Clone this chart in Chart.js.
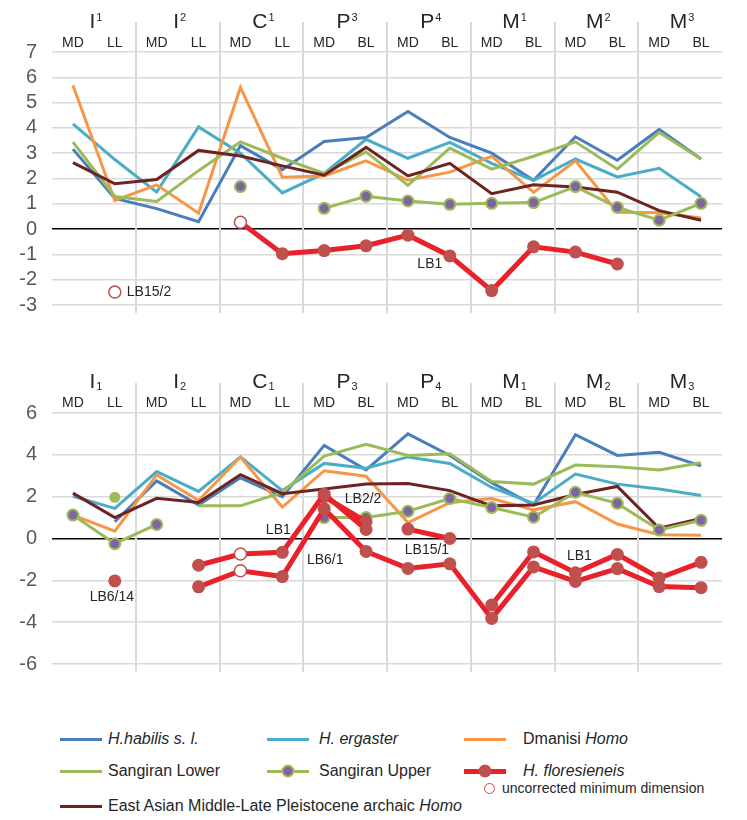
<!DOCTYPE html>
<html>
<head>
<meta charset="utf-8">
<script src="https://cdn.jsdelivr.net/npm/chart.js@4.4.0/dist/chart.umd.min.js"></script>
<style>
  body { margin: 0; background: #fff; font-family: "Liberation Sans", Arial, sans-serif; }
  #wrap { position: relative; width: 747px; height: 820px; overflow: hidden; }
  .chartBox { position: absolute; left: 0; width: 747px; }
  .item { position: absolute; display: flex; align-items: center; height: 22px;
          font-size: 16px; color: #262626; white-space: nowrap; }
  .sample { position: relative; width: 42px; height: 3px; flex: none; }
  .sample.thick { height: 5px; }
  .dot { position: absolute; left: 50%; top: 50%; border-radius: 50%; transform: translate(-50%, -50%); }
  .open { position: absolute; width: 9px; height: 9px; border: 1.5px solid #c0504d;
          border-radius: 50%; background: #fff; }
  .note { position: absolute; font-size: 14px; color: #262626; white-space: nowrap; }
</style>
</head>
<body>
<div id="wrap">
  <div class="chartBox" style="top:0;height:332px"><canvas id="upperChart" width="747" height="332"></canvas></div>
  <div class="chartBox" style="top:361px;height:330px"><canvas id="lowerChart" width="747" height="330"></canvas></div>

  <div class="item" style="left:60px;top:728px"><span class="sample" style="background:#4a7ebb;margin-right:6px"></span><i>H.habilis s. l.</i></div>
  <div class="item" style="left:267px;top:728px"><span class="sample" style="background:#4bacc6;margin-right:10px"></span><i>H. ergaster</i></div>
  <div class="item" style="left:464px;top:728px"><span class="sample" style="background:#f79646;margin-right:17px"></span>Dmanisi&nbsp;<i>Homo</i></div>

  <div class="item" style="left:60px;top:760px"><span class="sample" style="background:#9bbb59;margin-right:6px"></span>Sangiran Lower</div>
  <div class="item" style="left:267px;top:760px"><span class="sample" style="background:#9bbb59;margin-right:10px"><span class="dot" style="width:9px;height:9px;background:#8064a2;border:2px solid #9bbb59"></span></span>Sangiran Upper</div>
  <div class="item" style="left:464px;top:760px"><span class="sample thick" style="background:#e8212b;margin-right:17px"><span class="dot" style="width:13px;height:13px;background:#c0504d"></span></span><i>H. floresieneis</i></div>
  <span class="open" style="left:484px;top:783px"></span>
  <div class="note" style="left:502px;top:780px">uncorrected minimum dimension</div>

  <div class="item" style="left:60px;top:795px"><span class="sample" style="background:#6e2323;margin-right:6px"></span>East Asian Middle-Late Pleistocene archaic&nbsp;<i>Homo</i></div>
</div>

<script>
// ── Categories: 8 teeth x 2 dimensions ─────────
const TOOTH_LETTERS = ['I', 'I', 'C', 'P', 'P', 'M', 'M', 'M'];
const TOOTH_NUMBERS = ['1', '2', '1', '3', '4', '1', '2', '3'];
const DIMS_UPPER = ['MD', 'LL', 'MD', 'LL', 'MD', 'LL', 'MD', 'BL',
                    'MD', 'BL', 'MD', 'BL', 'MD', 'BL', 'MD', 'BL'];
const DIMS_LOWER = ['MD', 'LL', 'MD', 'LL', 'MD', 'LL', 'MD', 'BL',
                    'MD', 'BL', 'MD', 'BL', 'MD', 'BL', 'MD', 'BL'];

// ── Y ticks ─────────────────────────────────
const Y_UPPER = { min: -3, max: 7, step: 1 };
const Y_LOWER = { min: -6, max: 6, step: 2 };

// ── Maxillary (upper) values ────────────────
const habilisUp   = [3.16, 1.21, 0.81, 0.29, 3.3, 2.35, 3.46, 3.62, 4.65, 3.62, 3.0, 1.93, 3.65, 2.72, 3.94, 2.77];
const ergasterUp  = [4.16, 2.75, 1.46, 4.04, 3.0, 1.43, 2.2, 3.55, 2.8, 3.43, 2.6, 1.93, 2.77, 2.06, 2.4, 1.28];
const dmanisiUp   = [5.69, 1.13, 1.75, 0.63, 5.6, 2.05, 2.1, 2.7, 1.93, 2.25, 2.88, 1.45, 2.7, 0.67, 0.65, 0.44];
const sangLowUp   = [3.44, 1.29, 1.09, 2.31, 3.45, 2.8, 2.2, 3.05, 1.73, 3.2, 2.37, 2.88, 3.45, 2.37, 3.82, 2.77];
const sangUpUp    = [null, null, null, null, 1.68, null, 0.82, 1.3, 1.11, 0.98, 1.02, 1.05, 1.68, 0.86, 0.35, 1.02];
const eastAsiaUp  = [2.63, 1.79, 1.96, 3.11, 2.89, 2.5, 2.13, 3.23, 2.1, 2.6, 1.4, 1.75, 1.66, 1.46, 0.73, 0.35];
const lb1Up       = [null, null, null, null, 0.27, -0.97, -0.85, -0.66, -0.24, -1.06, -2.43, -0.7, -0.91, -1.38, null, null];
const lb15_2Up    = [null, -2.49, null, null, null, null, null, null, null, null, null, null, null, null, null, null];

// ── Mandibular (lower) values ───────────────
const habilisLo   = [null, 0.8, 2.75, 1.6, 2.9, 2.0, 4.45, 3.28, 5.0, 3.97, 2.67, 1.6, 4.96, 3.97, 4.12, 3.47];
const ergasterLo  = [2.02, 1.44, 3.2, 2.25, 3.9, 2.29, 3.59, 3.36, 3.9, 3.59, 2.44, 1.68, 3.08, 2.6, 2.37, 2.06];
const dmanisiLo   = [1.12, 0.35, 3.04, 1.82, 3.9, 1.5, 3.24, 2.98, 0.76, 1.71, 1.91, 1.37, 1.76, 0.69, 0.18, 0.15];
const sangLowLo   = [null, 1.97, null, 1.56, 1.56, 2.2, 3.94, 4.5, 3.97, 4.05, 2.72, 2.6, 3.51, 3.43, 3.28, 3.62];
const sangUpLo    = [1.12, -0.25, 0.67, null, null, null, 1.0, 1.0, 1.3, 1.91, 1.48, 1.02, 2.21, 1.68, 0.41, 0.87];
const eastAsiaLo  = [2.17, 1.0, 1.92, 1.72, 3.05, 2.14, 2.37, 2.6, 2.63, 2.29, 1.56, 1.6, 2.1, 2.49, 0.49, 0.96];
const lb1Lo       = [null, null, null, -1.28, -0.74, -0.66, 2.12, 0.43, null, null, -3.18, -0.64, -1.64, -0.76, -1.89, -1.14];
const lb6_1Lo     = [null, null, null, -2.31, -1.54, -1.82, 1.42, -0.62, -1.43, -1.21, -3.82, -1.36, -2.05, -1.44, -2.30, -2.35];
const lb2_2Lo     = [null, null, null, null, null, null, 2.0, 0.8, null, null, null, null, null, null, null, null];
const lb15_1Lo    = [null, null, null, null, null, null, null, null, 0.45, 0.0, null, null, null, null, null, null];
const lb6_14Lo    = [null, -2.03, null, null, null, null, null, null, null, null, null, null, null, null, null, null];

// uncorrected minimum dimension (open circles), by category index
const OPEN_UP = [4];
const OPEN_LO = [4];

// specimen labels: [text, category index, value, dx px, align]
const NOTES_UP = [['LB15/2', 1, -2.49, 12, 'left'], ['LB1', 9, -1.4, -20, 'center']];
const NOTES_LO = [['LB6/14', 1, -2.78, -3, 'center'], ['LB1', 5, 0.42, -4, 'center'],
                  ['LB2/2', 7, 1.9, -3, 'center'], ['LB6/1', 6, -1.05, 1, 'center'],
                  ['LB15/1', 8, -0.55, 19, 'center'], ['LB1', 12, -0.82, 4, 'center']];

// ── Colours ─────────────────────────────────
const C = {
  habilis: '#4a7ebb', ergaster: '#4bacc6', dmanisi: '#f79646', sangiran: '#9bbb59',
  purple: '#8064a2', flores: '#e8212b', floresDot: '#c0504d', eastAsia: '#6e2323'
};

// ── Dataset helpers ─────────────────────────
function plainLine(label, data, color, extra) {
  return Object.assign({
    label, data, borderColor: color, backgroundColor: color,
    borderWidth: 3, pointRadius: 0, tension: 0, spanGaps: false
  }, extra || {});
}

function isolated(data, i) {
  return data[i] != null && data[i - 1] == null && data[i + 1] == null;
}

function sangUpperLine(data) {
  return plainLine('Sangiran Upper', data, C.sangiran, {
    pointRadius: 5.5, pointBackgroundColor: C.purple,
    pointBorderColor: C.sangiran, pointBorderWidth: 2
  });
}

function floresLine(label, data, open) {
  return plainLine(label, data, C.flores, {
    borderWidth: 5,
    pointRadius: ctx => open.includes(ctx.dataIndex) ? 6 : 6.5,
    pointBackgroundColor: ctx => open.includes(ctx.dataIndex) ? '#fff' : C.floresDot,
    pointBorderColor: C.floresDot,
    pointBorderWidth: ctx => open.includes(ctx.dataIndex) ? 1.5 : 0
  });
}

// ── Header + dividers plugin ────────────────
const toothHeader = {
  id: 'toothHeader',
  beforeDatasetsDraw(chart, args, opts) {
    const { ctx, chartArea, scales: { x } } = chart;
    const half = (x.getPixelForValue(1) - x.getPixelForValue(0)) / 2;
    ctx.save();
    ctx.strokeStyle = '#d9d9d9';
    ctx.lineWidth = 2;
    for (let g = 1; g < TOOTH_LETTERS.length; g++) {
      const px = Math.round(x.getPixelForValue(g * 2) - half);
      ctx.beginPath();
      ctx.moveTo(px, 22);
      ctx.lineTo(px, chartArea.bottom + 8);
      ctx.stroke();
    }
    ctx.fillStyle = '#262626';
    ctx.textBaseline = 'alphabetic';
    // dimension labels
    ctx.font = '14px "Liberation Sans", Arial, sans-serif';
    ctx.textAlign = 'center';
    chart.data.labels.forEach((lab, i) => {
      ctx.fillText(lab, x.getPixelForValue(i), opts.dimBase);
    });
    // tooth names with super/subscript digit
    ctx.textAlign = 'left';
    TOOTH_LETTERS.forEach((letter, g) => {
      const cx = (x.getPixelForValue(2 * g) + x.getPixelForValue(2 * g + 1)) / 2;
      ctx.font = '21px "Liberation Sans", Arial, sans-serif';
      const w1 = ctx.measureText(letter).width;
      ctx.font = '11px "Liberation Sans", Arial, sans-serif';
      const w2 = ctx.measureText(TOOTH_NUMBERS[g]).width;
      const x0 = cx - (w1 + w2 + 1) / 2 + 2;
      ctx.font = '21px "Liberation Sans", Arial, sans-serif';
      ctx.fillText(letter, x0, opts.nameBase);
      ctx.font = '11px "Liberation Sans", Arial, sans-serif';
      ctx.fillText(TOOTH_NUMBERS[g], x0 + w1 + 1, opts.nameBase + opts.digitShift);
    });
    ctx.restore();
  },
  afterDatasetsDraw(chart, args, opts) {
    const { ctx, scales: { x, y } } = chart;
    ctx.save();
    ctx.fillStyle = '#262626';
    ctx.font = '14px "Liberation Sans", Arial, sans-serif';
    ctx.textBaseline = 'middle';
    opts.notes.forEach(([text, idx, val, dx, align]) => {
      ctx.textAlign = align;
      ctx.fillText(text, x.getPixelForValue(idx) + dx, y.getPixelForValue(val));
    });
    ctx.restore();
  }
};

function makeChart(id, labels, datasets, yr, header) {
  return new Chart(document.getElementById(id), {
    type: 'line',
    data: { labels, datasets },
    plugins: [toothHeader],
    options: {
      responsive: false,
      animation: false,
      events: [],
      layout: { padding: { left: 0, right: 25, top: 52, bottom: 14 } },
      plugins: { legend: { display: false }, tooltip: { enabled: false }, toothHeader: header },
      scales: {
        x: { type: 'category', offset: true, display: false },
        y: {
          min: yr.min, max: yr.max,
          afterFit(scale) { scale.width = 52; },
          border: { display: false },
          grid: {
            drawTicks: false,
            color: c => c.tick && c.tick.value === 0 ? '#000' : '#d9d9d9',
            lineWidth: 1.5
          },
          ticks: {
            stepSize: yr.step, padding: 15, color: '#595959', autoSkip: false,
            font: { size: 20, family: '"Liberation Sans", Arial, sans-serif' }
          }
        }
      }
    }
  });
}

makeChart('upperChart', DIMS_UPPER, [
  floresLine('H. floresieneis', lb1Up, OPEN_UP),
  plainLine('LB15/2', lb15_2Up, C.floresDot, {
    showLine: false, pointRadius: 6, pointBackgroundColor: '#fff',
    pointBorderColor: C.floresDot, pointBorderWidth: 1.5
  }),
  sangUpperLine(sangUpUp),
  plainLine('East Asian Middle-Late Pleistocene archaic Homo', eastAsiaUp, C.eastAsia),
  plainLine('Sangiran Lower', sangLowUp, C.sangiran),
  plainLine('Dmanisi Homo', dmanisiUp, C.dmanisi),
  plainLine('H. ergaster', ergasterUp, C.ergaster),
  plainLine('H.habilis s. l.', habilisUp, C.habilis)
], Y_UPPER, { nameBase: 28, digitShift: -7, dimBase: 47, notes: NOTES_UP });

makeChart('lowerChart', DIMS_LOWER, [
  floresLine('LB1', lb1Lo, OPEN_LO),
  floresLine('LB6/1', lb6_1Lo, OPEN_LO),
  floresLine('LB2/2', lb2_2Lo, []),
  floresLine('LB15/1', lb15_1Lo, []),
  floresLine('LB6/14', lb6_14Lo, []),
  sangUpperLine(sangUpLo),
  plainLine('East Asian Middle-Late Pleistocene archaic Homo', eastAsiaLo, C.eastAsia),
  plainLine('Sangiran Lower', sangLowLo, C.sangiran, {
    pointRadius: ctx => isolated(ctx.dataset.data, ctx.dataIndex) ? 5.5 : 0,
    pointBorderWidth: 0
  }),
  plainLine('Dmanisi Homo', dmanisiLo, C.dmanisi),
  plainLine('H. ergaster', ergasterLo, C.ergaster),
  plainLine('H.habilis s. l.', habilisLo, C.habilis)
], Y_LOWER, { nameBase: 27, digitShift: 2, dimBase: 46, notes: NOTES_LO });
</script>
</body>
</html>
